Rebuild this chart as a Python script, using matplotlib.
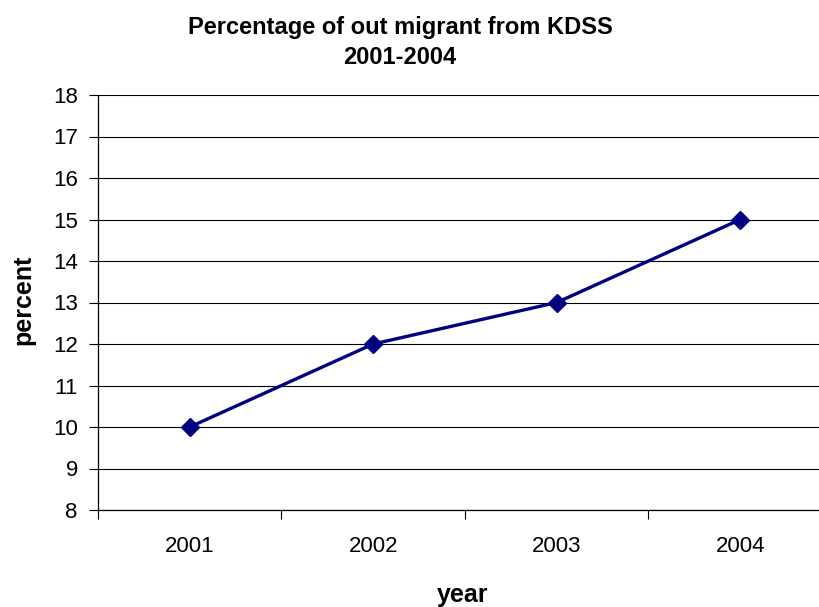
import matplotlib
matplotlib.use('Agg')
import matplotlib.pyplot as plt
from matplotlib.ticker import FixedLocator, NullFormatter

plt.rcParams['font.family'] = ['Liberation Sans', 'DejaVu Sans']

# out migrants from KDSS, share per year
years = ['2001', '2002', '2003', '2004']
percent = [10, 12, 13, 15]
y_ticks = list(range(8, 19))

W, H = 820, 607
fig = plt.figure(figsize=(W / 100, H / 100), dpi=100)

# plot area in pixels: left 98, top 95, bottom 510, one category = 183.5 px
ax = fig.add_axes([98 / W, (H - 510) / H, 734 / W, 415 / H])

x = list(range(len(years)))
ax.plot(x, percent, color='#000080', lw=2.4, marker='D', ms=9,
        markeredgecolor='#000080', markerfacecolor='#000080', zorder=3)

ax.set_xlim(-0.5, len(years) - 0.5)
ax.set_ylim(8, 18)
ax.set_yticks(y_ticks)
ax.yaxis.grid(True, color='black', lw=0.8)
ax.set_axisbelow(True)

# category boundaries get the tick marks, centres get the labels
ax.xaxis.set_major_locator(FixedLocator([i - 0.5 for i in range(len(years) + 1)]))
ax.xaxis.set_major_formatter(NullFormatter())
ax.xaxis.set_minor_locator(FixedLocator(x))
ax.set_xticklabels(years, minor=True)
ax.tick_params(axis='x', which='major', direction='out', length=6.5, width=0.8)
ax.tick_params(axis='x', which='minor', length=0, pad=19, labelsize=16)
ax.tick_params(axis='y', direction='out', length=6.5, width=0.8, pad=8,
               labelsize=16)

for side in ['top', 'right']:
    ax.spines[side].set_visible(False)
for side in ['left', 'bottom']:
    ax.spines[side].set_color('black')
    ax.spines[side].set_linewidth(0.9)

fig.text(400 / W, 1 - 34 / H, 'Percentage of out migrant from KDSS',
         ha='center', va='baseline', fontsize=17, fontweight='bold')
fig.text(400 / W, 1 - 64 / H, '2001-2004',
         ha='center', va='baseline', fontsize=17, fontweight='bold')
fig.text(23 / W, 1 - 300 / H, 'percent', rotation=90, ha='center',
         va='center', fontsize=18, fontweight='bold')
fig.text(463 / W, 1 - 595 / H, 'year', ha='center', va='center',
         fontsize=18, fontweight='bold')

fig.savefig('out.png', dpi=100)
